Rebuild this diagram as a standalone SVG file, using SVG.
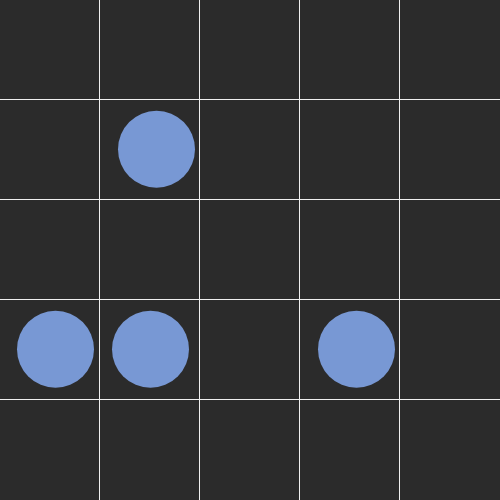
<svg xmlns="http://www.w3.org/2000/svg" width="500" height="500" viewBox="0 0 500 500">
<style>
.grid line{stroke:#f0f0f0;stroke-width:1}
.dot{fill:#7898d4}
</style>
<rect width="500" height="500" fill="#2b2b2b"/>
<g class="grid">
<line x1="99.5" y1="0" x2="99.5" y2="500"/>
<line x1="199.5" y1="0" x2="199.5" y2="500"/>
<line x1="299.5" y1="0" x2="299.5" y2="500"/>
<line x1="399.5" y1="0" x2="399.5" y2="500"/>
<line x1="0" y1="99.5" x2="500" y2="99.5"/>
<line x1="0" y1="199.5" x2="500" y2="199.5"/>
<line x1="0" y1="299.5" x2="500" y2="299.5"/>
<line x1="0" y1="399.5" x2="500" y2="399.5"/>
</g>
<g id="n1"><circle class="dot" cx="156.5" cy="149.2" r="38.5"/></g>
<g id="n2"><circle class="dot" cx="55.5" cy="349.2" r="38.5"/></g>
<g id="n3"><circle class="dot" cx="150.5" cy="349.2" r="38.5"/></g>
<g id="n4"><circle class="dot" cx="356.5" cy="349.2" r="38.5"/></g>
</svg>
